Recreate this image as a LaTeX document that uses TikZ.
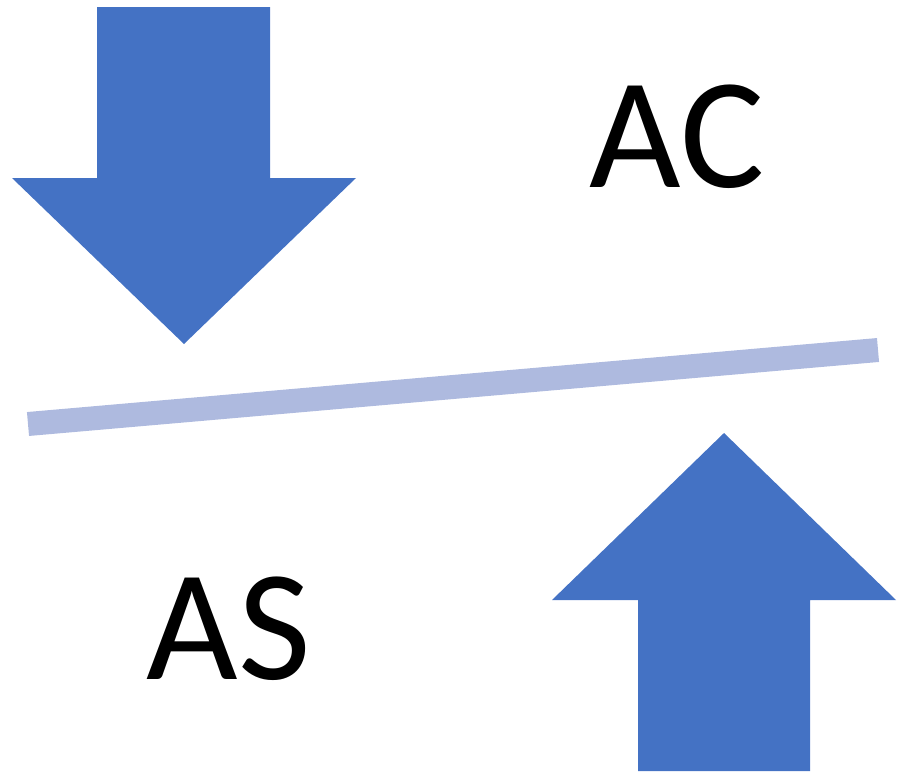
\documentclass[tikz,border=0pt]{standalone}
\usepackage{fontspec}
\setmainfont{Carlito}
\definecolor{arrowblue}{HTML}{4472C4}
\definecolor{barblue}{HTML}{AEBADF}
\begin{document}
\begin{tikzpicture}[x=0.02cm,y=-0.02cm,
  arrowshape/.style={fill=arrowblue,draw=none},
  lbl/.style={font=\fontsize{90}{90}\selectfont,inner sep=0pt,anchor=base}]
\useasboundingbox (0,0) rectangle (898,774);
% down arrow
\fill[arrowshape] (97,7) -- (270,7) -- (270,178) -- (356,178) -- (184,344) -- (12,178) -- (97,178) -- cycle;
% up arrow
\fill[arrowshape] (638,771) -- (810,771) -- (810,600) -- (896,600) -- (724,433) -- (552,600) -- (638,600) -- cycle;
% bar
\coordinate (b1) at (28,424);
\coordinate (b2) at (878,350);
\draw[barblue,line width=0.48cm] (b1) -- (b2);
% labels
\node[lbl] (ac) at (677,187) {AC};
\node[lbl] (as) at (229,679) {AS};
\end{tikzpicture}
\end{document}
